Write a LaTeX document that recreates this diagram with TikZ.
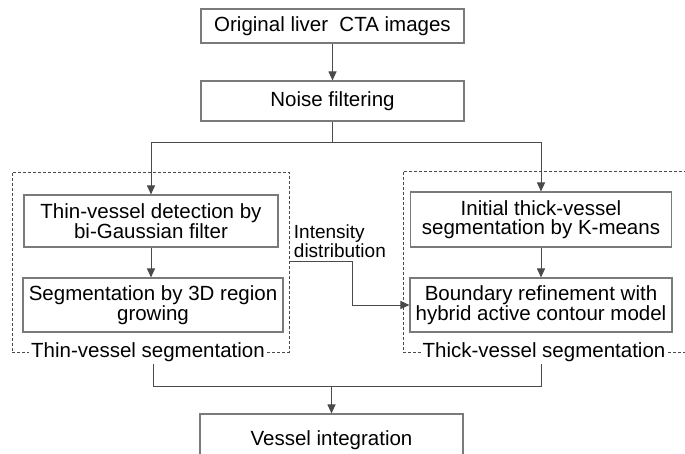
\documentclass[tikz,border=0pt]{standalone}
\usepackage{fontspec}
\setmainfont{Liberation Sans}
\usetikzlibrary{arrows.meta}

\definecolor{linegray}{HTML}{4A4A4A}
\definecolor{boxgray}{HTML}{7A7A7A}

\begin{document}
\begin{tikzpicture}[
    x=1pt, y=-1pt,
    >={Triangle[length=9pt,width=8pt]},
    box/.style={
        draw=boxgray,
        line width=1.1pt,
        inner sep=0pt,
        align=center,
        font=\fontsize{20.5}{19}\selectfont
    },
    frame/.style={
        draw=linegray,
        line width=0.9pt,
        dash pattern=on 3pt off 2pt,
        inner sep=0pt
    },
    framelabel/.style={
        fill=white,
        inner sep=2pt,
        font=\fontsize{20.5}{19}\selectfont
    },
    arr/.style={->, draw=linegray, line width=1pt}
]

\useasboundingbox (0,0) rectangle (685,454);
\clip (0,0) rectangle (685,454);

% main column
\node[box, minimum width=263, minimum height=34] (orig) at (332.5,26)
    {Original liver\ \ CTA images};
\node[box, minimum width=263, minimum height=40] (noise) at (332.5,101)
    {Noise filtering};

% dashed groups
\node[frame, minimum width=277, minimum height=180] (thinframe) at (150.5,262) {};
\node[frame, minimum width=284, minimum height=181] (thickframe) at (545,261.5) {};

% thin-vessel branch
\node[box, minimum width=254, minimum height=52] (thin1) at (151,221)
    {Thin-vessel detection by\\bi-Gaussian filter};
\node[box, minimum width=260, minimum height=54] (thin2) at (153,305)
    {Segmentation by 3D region\\growing};

% thick-vessel branch
\node[box, minimum width=261, minimum height=55] (thick1) at (541,219.5)
    {Initial thick-vessel\\segmentation by K-means};
\node[box, minimum width=262, minimum height=54] (thick2) at (541,305)
    {Boundary refinement with\\hybrid active contour model};

\node[framelabel] (thinlbl) at (148,352) {Thin-vessel segmentation};
\node[framelabel] (thicklbl) at (544,352) {Thick-vessel segmentation};

\node[box, minimum width=263, minimum height=52] (vessel) at (331.5,440)
    {Vessel integration};

% connectors
\draw[arr] (orig) -- (noise);
\draw[draw=linegray, line width=1pt] (noise.south) -- ++(0,21) coordinate (split);
\draw[arr] (split) -| (thin1.north);
\draw[arr] (split) -| (thick1.north);
\draw[arr] (thin1.south) -- (thin1.south |- thin2.north);
\draw[arr] (thick1) -- (thick2);

\draw[arr] (thinframe.east)
    node[anchor=south west, align=left, inner sep=4pt,
         font=\fontsize{19}{17}\selectfont] (intlbl) {Intensity\\distribution}
    -- ++(63,0) |- (thick2.west);

\path (vessel.north) ++(0,-27) coordinate (merge);
\draw[draw=linegray, line width=1pt] (thin2.south |- thinlbl.south) |- (merge)
    -| (thick2.south |- thicklbl.south);
\draw[arr] (merge) -- (vessel.north);

\end{tikzpicture}
\end{document}
